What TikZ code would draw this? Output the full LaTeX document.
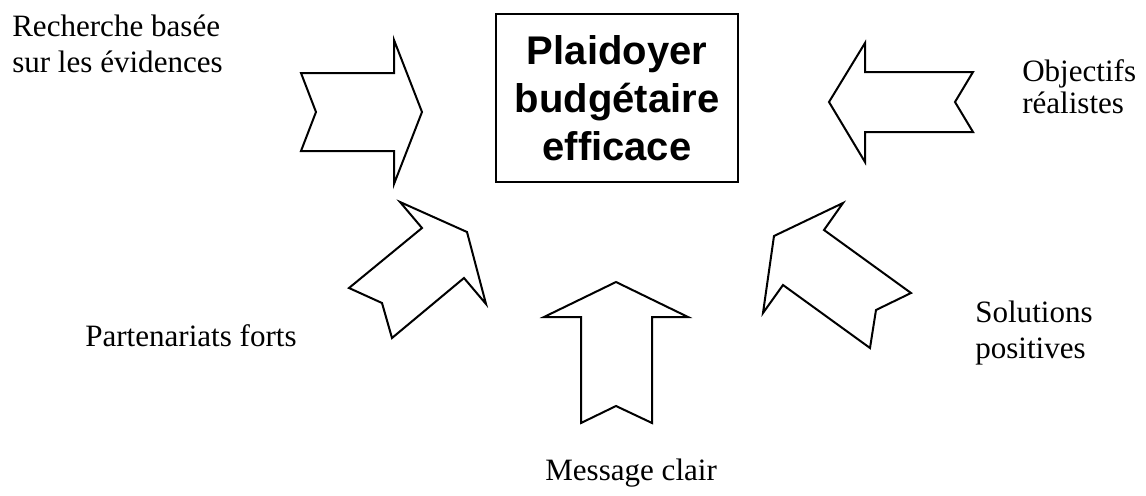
\documentclass[tikz,border=0pt]{standalone}
\usepackage{fontspec}
\setmainfont{Liberation Serif}
\newfontfamily\boxfont{Liberation Sans}
\begin{document}
\begin{tikzpicture}[x=0.75pt,y=-0.75pt,
  blockarrow/.style={draw=black,line width=1.5pt,line join=miter,fill=white},
  lbl/.style={inner sep=0pt,font=\fontsize{23.3}{27}\selectfont,align=left,anchor=base west},
  title/.style={draw=black,line width=1.6pt,minimum width=181.5pt,minimum height=126pt,inner sep=0pt,
    align=center,font=\boxfont\bfseries\fontsize{30}{36}\selectfont}]
\useasboundingbox (0,0) rectangle (1146,496);
% central box
\node[title] (box) at (617,98) {Plaidoyer\\budgétaire\\efficace};
% arrows
\draw[blockarrow] (301,73) -- (394,73) -- (394,40) -- (422,112) -- (394,184) -- (394,151) -- (301,151) -- (316,112) -- cycle;
\draw[blockarrow] (829,102) -- (865,43) -- (865,72) -- (973,72) -- (955,102) -- (973,132) -- (865,132) -- (865,162) -- cycle;
\draw[blockarrow] (616,282) -- (688,317) -- (652,317) -- (652,423) -- (616,406) -- (581,423) -- (581,317) -- (544,317) -- cycle;
\draw[blockarrow] (400,202) -- (467,232) -- (486,304) -- (464,278) -- (392,338) -- (382,303) -- (349,288) -- (422,228) -- cycle;
\draw[blockarrow] (843,203) -- (774,236) -- (763,313) -- (783,285) -- (870,348) -- (876,310) -- (911,293) -- (824,230) -- cycle;
% labels (anchor = baseline of last line)
\node[lbl] (recherche) at (12,72) {Recherche basée\\sur les évidences};
\node[lbl,font=\fontsize{23.3}{23.3}\selectfont] (objectifs) at (1022,113) {Objectifs\\réalistes};
\node[lbl] (partenariats) at (85,346) {Partenariats forts};
\node[lbl] (solutions) at (975,358) {Solutions\\positives};
\node[lbl] (message) at (545,480) {Message clair};
\end{tikzpicture}
\end{document}
